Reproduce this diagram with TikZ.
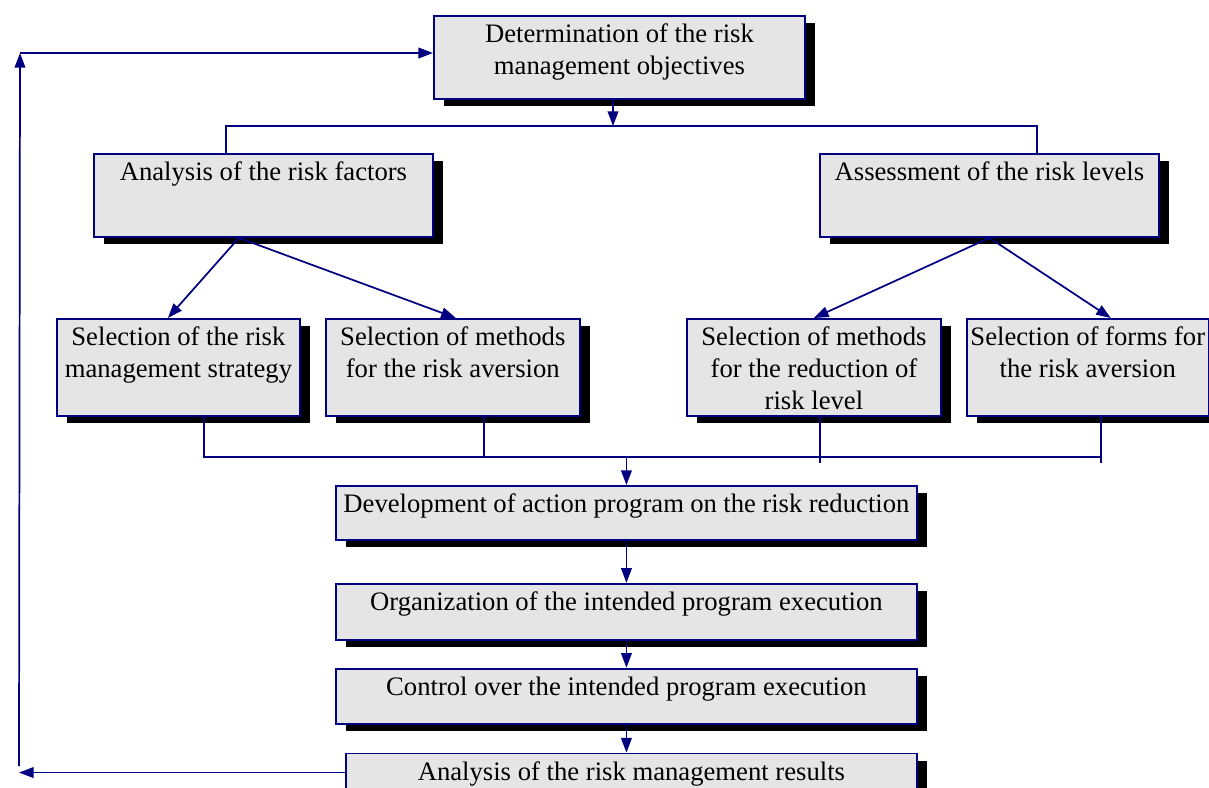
\documentclass[tikz,border=0pt]{standalone}
\usepackage{fontspec}
\setmainfont{Liberation Serif}
\usetikzlibrary{positioning,shadows,arrows.meta}
\definecolor{navy}{RGB}{0,0,128}
\definecolor{boxgray}{RGB}{229,229,229}
\newcommand{\boxtext}[3]{\parbox[t][#2][t]{#1}{\centering\rule{0pt}{20.25pt}#3}}

\begin{document}
\begin{tikzpicture}[
x=0.75pt, y=-0.75pt,
box/.style={draw=navy, fill=boxgray, line width=1.4pt, inner sep=0pt, font=\fontsize{20}{24}\selectfont,
  drop shadow={shadow xshift=7.5pt, shadow yshift=-5.25pt, fill=black, opacity=1}},
link/.style={draw=navy, line width=1.3pt},
arrow/.style={link, -{Triangle[length=11pt, width=8pt]}}
]
\useasboundingbox (0,0) rectangle (1209,788);

\node[box, anchor=north west] (obj) at (433,15) {\boxtext{278.25pt}{62.25pt}{Determination of the risk\\management objectives}};

\node[box, anchor=north west] (fac) at (93,153) {\boxtext{254.25pt}{62.25pt}{Analysis of the risk factors}};
\node[box, anchor=north west] (lev) at (819,153) {\boxtext{254.25pt}{62.25pt}{Assessment of the risk levels}};

\node[box, anchor=north west] (strat) at (56,318) {\boxtext{182.25pt}{72.75pt}{Selection of the risk\\management strategy}};
\node[box, right=18pt of strat] (meth) {\boxtext{190.5pt}{72.75pt}{Selection of methods\\for the risk aversion}};
\node[box, anchor=north west] (red) at (686,318) {\boxtext{190.5pt}{72.75pt}{Selection of methods\\for the reduction of\\risk level}};
\node[box, right=18pt of red] (form) {\boxtext{181.5pt}{72.75pt}{Selection of forms for\\the risk aversion}};

\node[box, anchor=north west] (prog) at (335,485) {\boxtext{435.75pt}{40.5pt}{\makebox[424.5pt][s]{Development of action program on the risk reduction}}};
\node[box, below=31.5pt of prog] (org) {\boxtext{435.75pt}{42pt}{Organization of the intended program execution}};
\node[box, below=20.25pt of org] (ctrl) {\boxtext{435.75pt}{41.25pt}{Control over the intended program execution}};
\node[box, below=21pt of ctrl, xshift=3.75pt] (res) {\boxtext{428.25pt}{28.5pt}{Analysis of the risk management results}};

\coordinate (split) at (613,126);
\coordinate (splitL) at (226,126);
\coordinate (splitR) at (1037,126);
\coordinate (join) at (625,457);
\coordinate (fbB) at (19,766);
\coordinate (fbT) at (20,53);

% objectives to the two analyses
\draw[arrow] (obj.south -| split) -- (split);
\draw[link] (fac.north -| splitL) |- (splitR) -- (lev.north -| splitR);

\draw[arrow] ([xshift=-18.4pt]fac.south) -- ([xshift=-7.9pt]strat.north);
\draw[arrow] ([xshift=-18.4pt]fac.south) -- ([xshift=2.25pt]meth.north);
\draw[arrow] (lev.south) -- (red.north);
\draw[arrow] (lev.south) -- ([xshift=17.25pt]form.north);

% collecting line
\draw[link] ([xshift=19pt]strat.south) |- ([xshift=9.75pt]form.south |- join) -- ([xshift=9.75pt]form.south);
\draw[link] ([xshift=23.25pt]meth.south) -- ([xshift=23.25pt]meth.south |- join);
\draw[link] ([xshift=4.5pt]red.south) -- ++(0,46);
\draw[link] ([xshift=9.75pt]form.south) -- ++(0,46);
\draw[arrow] (prog.north |- join) -- (prog.north);

\draw[arrow] (prog) -- (org);
\draw[arrow] (org) -- (ctrl);
\draw[arrow] (ctrl.south) -- (ctrl.south |- res.north);

% feedback
\draw[arrow] (res.west) -- (res.west -| fbB);
\draw[arrow] (fbB) -- (fbT);
\draw[arrow] (fbT) -- (fbT -| obj.west);

\end{tikzpicture}
\end{document}
